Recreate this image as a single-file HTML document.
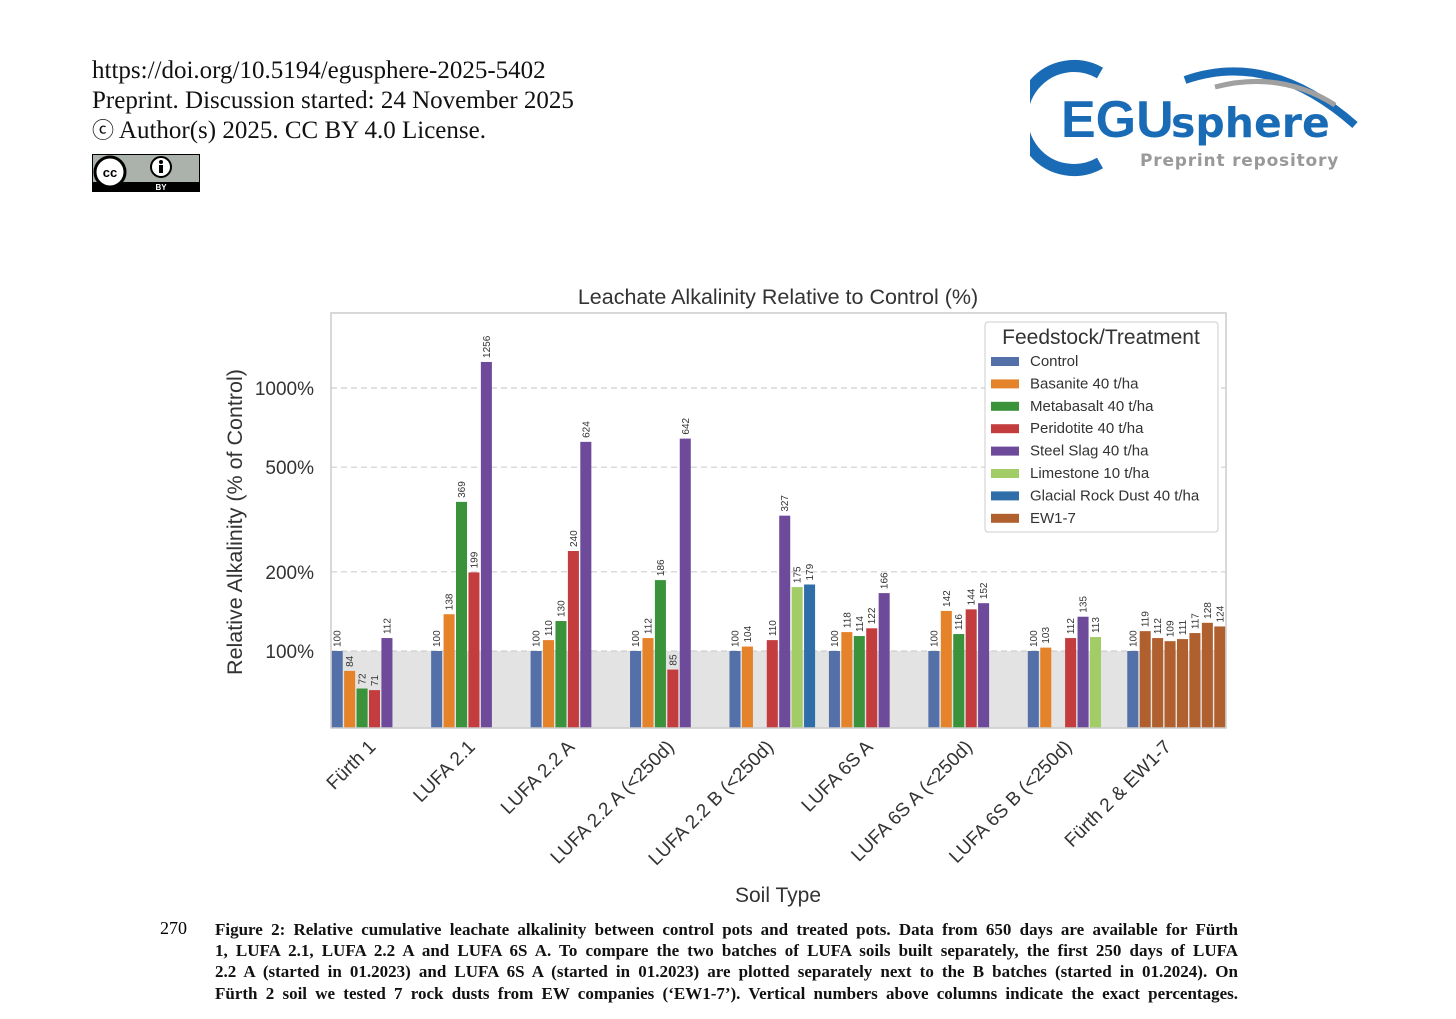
<!DOCTYPE html>
<html><head><meta charset="utf-8">
<style>
body{margin:0;width:1456px;height:1019px;background:#fff;overflow:hidden;position:relative;font-family:"Liberation Sans",sans-serif}
.hdr{position:absolute;left:92px;font-family:"Liberation Serif",serif;font-size:25px;line-height:30px;color:#111;white-space:nowrap}
.cap{position:absolute;left:215px;width:1023px;font-family:"Liberation Serif",serif;font-weight:bold;font-size:17px;line-height:21px;text-align:justify;text-align-last:justify;color:#111;white-space:nowrap}
</style></head><body>
<div class="hdr" style="top:56px">https://doi.org/10.5194/egusphere-2025-5402</div>
<div class="hdr" style="top:86px">Preprint. Discussion started: 24 November 2025</div>
<div class="hdr" style="top:116px"><span style="font-size:22px">ⓒ</span> Author(s) 2025. CC BY 4.0 License.</div>
<svg style="position:absolute;left:92px;top:154px" width="108" height="38">
<rect x="0" y="0" width="108" height="38" fill="#000"/><rect x="1" y="1" width="106" height="27" fill="#aab2ab"/>
<circle cx="18" cy="18" r="15" fill="#fff" stroke="#000" stroke-width="3"/><text x="18" y="23" font-size="13" font-weight="bold" text-anchor="middle">cc</text>
<circle cx="69" cy="13" r="10" fill="#fff" stroke="#000" stroke-width="2"/><rect x="67" y="11" width="4" height="8" fill="#000"/><circle cx="69" cy="8" r="2" fill="#000"/>
<text x="69" y="36" font-size="8" fill="#fff" font-weight="bold" text-anchor="middle">BY</text></svg>
<svg style="position:absolute;left:1030px;top:55px" width="340" height="125">
<path d="M70 18 A52 52 0 1 0 70 108" fill="none" stroke="#1a6bb5" stroke-width="12"/>
<path d="M155 25 Q240 -5 325 70" fill="none" stroke="#1a6bb5" stroke-width="8"/>
<path d="M185 32 Q250 15 305 50" fill="none" stroke="#a0a0a0" stroke-width="5"/>
<text x="31" y="82" font-size="52" font-weight="bold" fill="#1a6bb5" font-family="Liberation Sans">EGU</text>
<text x="141" y="82" font-size="41" font-weight="bold" fill="#1a6bb5" font-family="DejaVu Sans">sphere</text>
<text x="110" y="111" font-size="17" font-weight="bold" fill="#999" font-family="DejaVu Sans" letter-spacing="0.8">Preprint repository</text></svg>

<svg id="chart" style="position:absolute;left:0;top:0" width="1456" height="910"></svg>

<div style="position:absolute;left:160px;top:918px;font-family:'Liberation Serif',serif;font-size:18px">270</div>
<div>
<div class="cap" style="top:919px">Figure 2: Relative cumulative leachate alkalinity between control pots and treated pots. Data from 650 days are available for Fürth</div>
<div class="cap" style="top:940px">1, LUFA 2.1, LUFA 2.2 A and LUFA 6S A. To compare the two batches of LUFA soils built separately, the first 250 days of LUFA</div>
<div class="cap" style="top:961px">2.2 A (started in 01.2023) and LUFA 6S A (started in 01.2023) are plotted separately next to the B batches (started in 01.2024). On</div>
<div class="cap" style="top:983px">Fürth 2 soil we tested 7 rock dusts from EW companies (‘EW1-7’). Vertical numbers above columns indicate the exact percentages.</div>
</div>

<script>
const categories=["Fürth 1","LUFA 2.1","LUFA 2.2 A","LUFA 2.2 A (<250d)","LUFA 2.2 B (<250d)","LUFA 6S A","LUFA 6S A (<250d)","LUFA 6S B (<250d)","Fürth 2 & EW1-7"];
const treatments=["Control","Basanite 40 t/ha","Metabasalt 40 t/ha","Peridotite 40 t/ha","Steel Slag 40 t/ha","Limestone 10 t/ha","Glacial Rock Dust 40 t/ha","EW1-7"];
const colors=["#5470a8","#e5832a","#3a923a","#c43d3e","#6d4a9a","#a2cc65","#2f6ea8","#b0602e"];
const seriesControl=[100,100,100,100,100,100,100,100,100];
const seriesBasanite=[84,138,110,112,104,118,142,103,null];
const seriesMetabasalt=[72,369,130,186,null,114,116,null,null];
const seriesPeridotite=[71,199,240,85,110,122,144,112,null];
const seriesSteel=[112,1256,624,642,327,166,152,135,null];
const seriesLimestone=[null,null,null,null,175,null,null,113,null];
const seriesGlacial=[null,null,null,null,179,null,null,null,null];
const seriesEW=[119,112,109,111,117,128,124];
const yTicks=[100,200,500,1000];
const yTickLabels=["100%","200%","500%","1000%"];

const svg=document.getElementById('chart');
const NS="http://www.w3.org/2000/svg";
function mk(t,a,p){const e=document.createElementNS(NS,t);for(const k in a)e.setAttribute(k,a[k]);(p||svg).appendChild(e);return e;}
const X0=331,X1=1226,Y0=313,Y1=728,band=(X1-X0)/9,slot=band/8;
const y=v=>651-263*Math.log10(v/100);
const bandX=i=>X0+i*band;

let r=mk('rect',{x:X0,y:651,width:X1-X0,height:Y1-651,fill:'#e3e3e3'});

yTicks.forEach((v,k)=>{
 let l=mk('line',{x1:X0,x2:X1,y1:y(v),y2:y(v),stroke:'#cfcfcf','stroke-dasharray':'6,4','stroke-width':1.2});
 
 let t=mk('text',{x:314,y:y(v)+7,'font-size':19,'text-anchor':'end',fill:'#333'});t.textContent=yTickLabels[k];
 
});
function bar(ci,si,ti,v){
 const x=bandX(ci)+si*slot+0.7,w=slot-1.4,top=y(v);
 let b=mk('rect',{x:x,y:top,width:w,height:Y1-top,fill:colors[ti]});
 
 const cx=x+w/2+3.5,ty=top-4;
 let t=mk('text',{x:cx,y:ty,'font-size':10,fill:'#333',transform:`rotate(-90 ${cx} ${ty})`});t.textContent=v;
 
}
const all=[seriesControl,seriesBasanite,seriesMetabasalt,seriesPeridotite,seriesSteel,seriesLimestone,seriesGlacial];
for(let c=0;c<9;c++){for(let s=0;s<7;s++){const v=all[s][c];if(v!=null)bar(c,s,s,v);}}
seriesEW.forEach((v,k)=>bar(8,k+1,7,v));

let f=mk('rect',{x:X0,y:Y0,width:X1-X0,height:Y1-Y0,fill:'none',stroke:'#ccc','stroke-width':1.5});

categories.forEach((c,i)=>{
 const cx=bandX(i)+band/2-4,cy=748;
 let t=mk('text',{x:cx,y:cy,'font-size':19,'text-anchor':'end',fill:'#333',transform:`rotate(-45 ${cx} ${cy})`});t.textContent=c;
 
});
let tt=mk('text',{x:778,y:304,'font-size':21.5,'text-anchor':'middle',fill:'#333'});tt.textContent="Leachate Alkalinity Relative to Control (%)";

let xt=mk('text',{x:778,y:902,'font-size':21,'text-anchor':'middle',fill:'#333'});xt.textContent="Soil Type";

let yt=mk('text',{x:242,y:522,'font-size':21.5,'text-anchor':'middle',fill:'#333',transform:'rotate(-90 242 522)'});yt.textContent="Relative Alkalinity (% of Control)";


const lg=mk('g',{});
mk('rect',{x:985,y:322,width:233,height:210,fill:'#fff',stroke:'#ccc',rx:3},lg);
let lt=mk('text',{x:1101,y:344,'font-size':21,'text-anchor':'middle',fill:'#333'},lg);lt.textContent="Feedstock/Treatment";
treatments.forEach((n,k)=>{
 const yy=361+k*22.4;
 let g=mk('g',{},lg);
 mk('rect',{x:991,y:yy-4,width:28,height:9,fill:colors[k]},g);
 let t=mk('text',{x:1030,y:yy+5,'font-size':15,fill:'#333'},g);t.textContent=n;
});
</script>
</body></html>
